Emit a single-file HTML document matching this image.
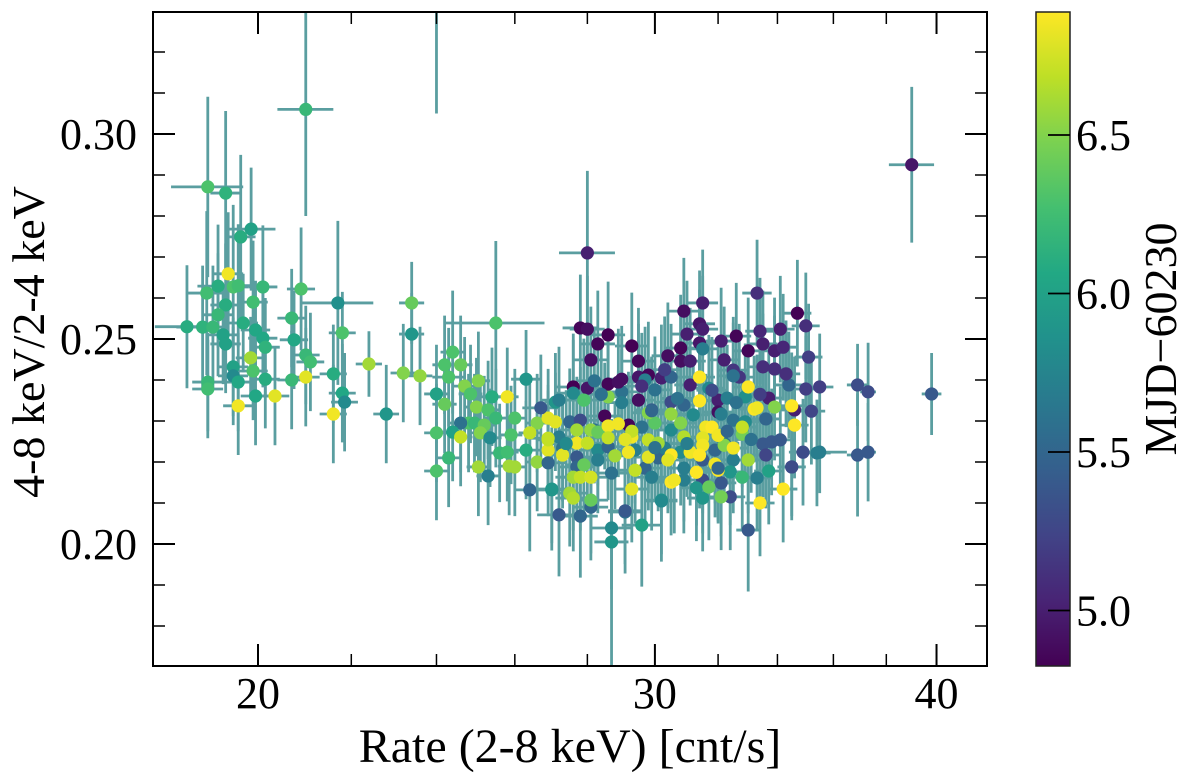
<!DOCTYPE html>
<html><head><meta charset="utf-8"><style>
html,body{margin:0;padding:0;background:#fff;}
svg{display:block;font-family:"Liberation Serif",serif;}
</style></head><body>
<svg id="chart" width="1200" height="780" viewBox="0 0 1200 780" xmlns="http://www.w3.org/2000/svg">
<defs>
<linearGradient id="viridis" x1="0" y1="1" x2="0" y2="0">
<stop offset="0" stop-color="#440154"/><stop offset="0.1" stop-color="#482475"/><stop offset="0.2" stop-color="#414487"/><stop offset="0.3" stop-color="#355f8d"/><stop offset="0.4" stop-color="#2a788e"/><stop offset="0.5" stop-color="#21918c"/><stop offset="0.6" stop-color="#22a884"/><stop offset="0.7" stop-color="#44bf70"/><stop offset="0.8" stop-color="#7ad151"/><stop offset="0.9" stop-color="#bddf26"/><stop offset="1" stop-color="#fde725"/>
</linearGradient>
<clipPath id="plotclip"><rect x="153" y="12" width="834" height="654"/></clipPath>
</defs>
<g id="errs" clip-path="url(#plotclip)"></g>
<g id="pts" clip-path="url(#plotclip)"></g>
<rect x="153" y="12" width="834" height="654" fill="none" stroke="#000" stroke-width="2"/>
<g id="axes"></g>
<text x="570" y="762" font-size="48" text-anchor="middle">Rate (2-8 keV) [cnt/s]</text>
<text transform="translate(44,342) rotate(-90)" font-size="46" text-anchor="middle">4-8 keV/2-4 keV</text>
<rect x="1036" y="12" width="34" height="654" fill="url(#viridis)" stroke="#222" stroke-width="1.5"/>
<g id="cbar"></g>
<text transform="translate(1176,339) rotate(-90)" font-size="46" text-anchor="middle">MJD−60230</text>
</svg>
<script>
const rate = [19.0,19.35,19.86,19.65,19.4,18.98,19.2,19.5,19.6,20.1,20.9,21.7,23.4,19.35,19.9,19.2,18.9,19.1,19.7,19.95,20.7,21.8,23.4,19.3,19.35,20.1,20.15,20.75,19.85,21.0,21.1,22.4,19.5,19.9,19.5,19.6,20.15,20.7,21.0,21.6,19.0,19.0,19.95,20.35,21.8,21.85,19.6,21.6,22.8,23.2,23.6,24.0,21.0,18.6,24.0,
25.5,28.0,24.4,26.3,24.2,24.6,24.3,25.05,24.7,25.8,25.4,24.85,24.0,27.9,28.6,27.1,24.2,25.0,25.3,25.5,26.0,26.6,26.9,27.1,24.8,24.95,25.2,24.6,24.4,24.6,25.1,25.35,25.9,26.4,24.3,24.0,25.05,25.3,25.85,26.0,26.6,26.9,26.9,26.4,27.0,25.6,25.8,26.3,27.2,27.8,28.7,28.7,29.6,30.2,29.1,33.0,
33.3,31.5,30.9,34.7,27.8,28.0,31.4,31.5,31.0,28.6,32.6,33.4,34.1,35.0,28.3,29.3,30.8,31.4,32.1,33.0,33.5,33.9,34.2,35.1,28.1,29.5,30.4,30.8,31.1,32.2,33.5,33.9,28.6,29.0,29.5,29.8,30.2,31.1,32.0,32.5,32.7,27.6,28.0,29.5,28.5,29.2,32.0,34.6,35.0,35.5,35.2,33.7,
27.2,27.6,28.2,29.0,29.7,30.0,30.5,31.5,31.7,32.3,32.5,32.9,34.4,26.7,27.5,27.8,28.2,29.6,30.5,29.9,30.5,30.9,32.1,32.5,32.9,27.2,27.3,27.7,28.3,28.6,29.4,30.1,30.3,30.8,30.9,31.5,31.9,32.2,32.5,33.5,33.8,34.1,34.5,34.9,35.4,33.6,26.9,27.7,28.7,29.7,29.9,30.9,31.5,32.1,32.4,33.3,33.7,27.0,28.1,29.1,30.2,31.3,31.5,32.4,
27.9,30.5,30.0,31.4,31.4,33.0,33.2,33.3,33.9,34.5,34.6,31.6,31.8,32.8,32.2,32.5,27.7,28.1,28.3,28.6,28.9,28.6,29.3,29.8,30.1,30.9,31.5,31.5,27.7,28.0,29.2,29.8,30.5,31.1,31.4,27.3,26.9,27.9,27.6,27.8,28.1,29.4,29.3,30.5,30.6,31.7,32.0,32.1,27.5,27.6,28.1,33.4,34.2,32.8,29.8,
36.9,37.3,39.8,39.0,36.9,37.3,35.5,34.5,
28.4,29.0,29.9,30.7,31.2,32.0,32.8,33.6,28.8,30.4,31.0,31.9,33.1,27.4,28.9,29.6,30.3,31.8,32.6,33.4,34.3,29.3,30.8,32.3,33.0,28.3,29.1,30.0,31.3,32.0];
const ratio = [.2871,.2856,.2768,.2749,.2659,.2612,.2629,.2627,.263,.2627,.2622,.2588,.2588,.2583,.259,.2559,.2529,.2529,.2539,.2522,.2551,.2515,.2512,.251,.2488,.2502,.248,.2498,.2454,.2461,.2444,.2439,.2432,.2422,.241,.2395,.2402,.24,.2407,.2415,.2395,.2378,.2361,.2361,.2368,.2346,.2337,.2317,.2317,.2417,.241,.2271,.306,.253,.34,
.2539,.271,.2468,.2402,.2437,.2437,.2407,.2398,.2385,.2359,.2359,.2366,.2366,.2351,.2359,.2346,.2341,.2334,.2327,.2307,.2307,.2295,.2307,.2298,.2295,.2295,.229,.2295,.2273,.2261,.2271,.2259,.2266,.2271,.221,.2178,.2188,.2166,.219,.2188,.22,.2229,.2254,.2132,.2134,.2222,.2224,.2229,.2071,.2068,.2039,.2005,.2046,.2107,.2078,.2034,
.2612,.2588,.2568,.2563,.2527,.2524,.2537,.2524,.2512,.251,.2507,.2519,.2524,.2532,.2488,.2483,.2478,.249,.2495,.2471,.2488,.2471,.248,.2456,.2449,.2446,.2459,.2446,.2446,.2449,.2432,.2427,.239,.2402,.2407,.2412,.2405,.2388,.2351,.2424,.2407,.2383,.238,.2351,.2312,.229,.2322,.2327,.2378,.2383,.2324,.2356,
.2351,.2368,.2398,.2371,.24,.2376,.2407,.2476,.238,.2356,.241,.2359,.2388,.2332,.2298,.2302,.2278,.2285,.2278,.2327,.2346,.2339,.2317,.2302,.2298,.2261,.2234,.2212,.2229,.2237,.2229,.221,.2234,.2224,.2185,.2205,.2229,.2246,.2205,.2244,.2249,.2254,.2188,.2224,.2222,.2217,.2198,.2188,.2173,.2185,.2163,.2156,.2156,.2149,.2176,.2161,.2178,.2132,.209,.2081,.2105,.2137,.2112,.2115,
.2351,.2317,.2295,.2407,.2349,.2383,.2329,.2332,.2334,.2337,.229,.2285,.2285,.2268,.2241,.2234,.2278,.2278,.2273,.2288,.2293,.2259,.2261,.2254,.2246,.2261,.2259,.2241,.2246,.2246,.2224,.2212,.2217,.2224,.2217,.2217,.2258,.2193,.2163,.2163,.2163,.218,.2134,.2151,.2156,.2139,.218,.2115,.2124,.2112,.2107,.21,.2134,.2163,.232,
.2388,.2371,.2366,.2925,.2217,.2224,.2224,.2188,
.2365,.2345,.2325,.2355,.2315,.2265,.2285,.2305,.2215,.2205,.2245,.2195,.2255,.2245,.2395,.2385,.2425,.2375,.2345,.2365,.2415,.2275,.2295,.2275,.2205,.2205,.2255,.2235,.2175,.2185];
const mjd = [6.3,6.15,6.0,6.1,6.85,6.25,6.1,6.3,6.25,6.2,6.3,5.85,6.4,6.1,6.25,6.2,6.15,6.2,6.1,6.05,6.2,6.3,5.9,6.0,6.0,6.05,6.15,6.05,6.6,6.2,6.25,6.6,6.0,6.3,5.8,6.05,6.1,6.2,6.8,6.1,6.2,6.25,6.05,6.8,6.05,5.8,6.85,6.85,5.9,6.5,6.55,6.3,6.2,6.1,6.0,
6.3,5.0,6.3,5.9,6.3,6.4,6.3,6.5,6.5,6.85,6.1,6.3,6.0,6.3,6.5,5.9,6.4,6.5,6.3,6.2,6.3,6.5,6.8,6.8,6.3,6.2,6.4,5.6,6.0,6.7,6.5,5.8,6.3,6.7,6.2,6.3,6.6,5.7,6.6,6.6,6.55,6.8,6.7,5.5,5.9,6.2,6.25,6.1,5.4,5.5,5.8,5.9,6.0,5.9,5.6,5.4,
5.1,5.0,4.9,4.8,4.85,4.9,4.95,5.0,5.0,4.8,4.85,5.05,5.0,5.1,4.85,4.8,4.85,4.95,5.0,4.85,5.0,5.0,5.05,5.2,4.9,4.85,4.9,4.9,5.0,5.0,5.1,5.1,4.85,4.9,4.95,4.85,5.0,5.0,5.0,5.15,5.15,4.8,4.95,4.9,4.85,4.85,4.9,5.0,5.2,5.2,5.25,5.0,
5.7,5.8,5.6,5.6,5.7,5.6,5.5,5.7,5.8,5.7,5.6,5.85,5.5,5.4,5.5,5.3,5.6,5.6,5.8,5.4,5.3,5.5,5.7,5.6,5.8,5.7,5.6,5.4,5.8,5.5,5.7,5.5,5.7,5.8,5.7,5.4,5.5,5.6,5.7,5.4,5.4,5.4,5.3,5.3,5.7,5.25,5.5,5.5,5.6,5.5,5.7,5.7,5.3,5.4,5.9,5.7,6.0,5.9,5.5,5.4,5.8,5.9,5.9,5.3,
6.3,6.55,6.35,6.9,6.9,6.9,6.9,6.85,6.5,6.9,6.9,6.85,6.9,6.45,6.5,6.85,6.6,6.55,6.4,6.85,6.85,6.7,6.85,6.7,6.6,6.65,6.8,6.85,6.85,6.7,6.85,6.8,6.9,6.85,6.9,6.8,6.7,6.4,6.6,6.7,6.75,6.7,6.8,6.9,6.85,6.4,6.9,6.45,6.6,6.65,6.4,6.9,6.9,6.2,6.5,
5.3,5.3,5.4,4.95,5.4,5.4,5.7,5.3,
5.6,5.7,5.5,5.6,5.8,6.85,6.7,5.5,6.6,6.8,5.7,6.85,5.6,5.8,4.9,5.1,5.2,5.3,5.6,5.2,5.1,6.7,6.5,5.5,6.6,5.7,6.8,5.6,6.9,5.5];
const rateErr = [.7,.3,.5,.3,.3,.4,.4,.3,.3,.3,.3,.8,.3,.3,.3,.3,.5,.3,.3,.3,.3,.3,.3,.3,.3,.3,.3,.3,.3,.3,.3,.3,.3,.3,.3,.3,.3,.3,.3,.3,.3,.3,.3,.3,.3,.3,.3,.3,.3,.3,.3,.3,.6,.6,.3,
1.3,.8,.3,.4,.3,.3,.4,.3,.3,.3,.3,.3,.3,.3,.3,.3,.3,.3,.3,.3,.3,.3,.3,.3,.3,.3,.3,.3,.3,.3,.3,.3,.3,.3,.3,.3,.3,.3,.3,.3,.3,.3,.3,.4,.4,.3,.3,.3,.6,.5,.6,.5,.6,.5,.5,.4,
.5,.5,.5,.5,.5,.5,.5,.5,.5,.5,.5,.5,.5,.5,.5,.5,.5,.5,.5,.5,.5,.5,.5,.5,.5,.5,.5,.5,.5,.5,.5,.5,.5,.5,.5,.5,.5,.5,.5,.5,.5,.5,.5,.5,.5,.5,.5,.5,.5,.5,.5,.5,
.5,.5,.5,.5,.5,.5,.5,.5,.5,.5,.5,.5,.5,.5,.5,.5,.5,.5,.5,.5,.5,.5,.5,.5,.5,.5,.5,.5,.5,.5,.5,.5,.5,.5,.5,.5,.5,.5,.5,.5,.5,.5,.5,.5,.5,.5,.5,.5,.5,.5,.5,.5,.5,.5,.5,.5,.5,.5,.5,.5,.5,.5,.5,.5,
.5,.5,.5,.5,.5,.5,.5,.5,.5,.5,.5,.5,.5,.5,.5,.5,.5,.5,.5,.5,.5,.5,.5,.5,.5,.5,.5,.5,.5,.5,.5,.5,.5,.5,.5,.5,.5,.5,.5,.5,.5,.5,.5,.5,.5,.5,.5,.5,.5,.5,.5,.5,.5,.5,.5,
.4,.3,.4,.9,.4,.3,1.0,.3,
.5,.5,.5,.5,.5,.5,.5,.5,.5,.5,.5,.5,.5,.5,.5,.5,.5,.5,.5,.5,.5,.5,.5,.5,.5,.5,.5,.5,.5,.5];
const ratioErr = [.022,.02,.015,.02,.015,.02,.015,.02,.015,.015,.015,.02,.01,.015,.015,.015,.015,.015,.012,.012,.012,.01,.01,.012,.012,.012,.012,.012,.01,.012,.012,.008,.012,.012,.012,.012,.012,.012,.012,.012,.012,.012,.012,.012,.012,.012,.012,.012,.012,.012,.012,.012,.026,.015,.035,
.02,.02,.015,.012,.012,.012,.012,.012,.012,.012,.012,.012,.012,.015,.015,.012,.012,.012,.012,.012,.012,.012,.012,.012,.012,.012,.012,.012,.012,.012,.012,.012,.012,.012,.012,.012,.012,.012,.012,.012,.012,.012,.012,.015,.015,.012,.012,.012,.015,.015,.015,.03,.015,.015,.015,.015,
.013,.013,.013,.013,.013,.013,.013,.013,.013,.013,.013,.013,.013,.013,.013,.013,.013,.013,.013,.013,.013,.013,.013,.013,.013,.013,.013,.013,.013,.013,.013,.013,.013,.013,.013,.013,.013,.013,.013,.013,.013,.013,.013,.013,.013,.013,.013,.013,.013,.013,.013,.013,
.013,.013,.013,.013,.013,.013,.013,.013,.013,.013,.013,.013,.013,.013,.013,.013,.013,.013,.013,.013,.013,.013,.013,.013,.013,.013,.013,.013,.013,.013,.013,.013,.013,.013,.013,.013,.013,.013,.013,.013,.013,.013,.013,.013,.013,.013,.013,.013,.013,.013,.013,.013,.013,.013,.013,.013,.013,.013,.013,.013,.013,.013,.013,.013,
.013,.013,.013,.013,.013,.013,.013,.013,.013,.013,.013,.013,.013,.013,.013,.013,.013,.013,.013,.013,.013,.013,.013,.013,.013,.013,.013,.013,.013,.013,.013,.013,.013,.013,.013,.013,.013,.013,.013,.013,.013,.013,.013,.013,.013,.013,.013,.013,.013,.013,.013,.013,.013,.013,.013,
.01,.012,.01,.019,.015,.012,.01,.012,
.013,.013,.013,.013,.013,.013,.013,.013,.013,.013,.013,.013,.013,.013,.013,.013,.013,.013,.013,.013,.013,.013,.013,.013,.013,.013,.013,.013,.013,.013];
const xMajor = [20,30,40];
const xMinor = [22,24,26,28,32,34,36,38];
const yMajor = [0.20,0.25,0.30];
const yMinor = [0.18,0.19,0.21,0.22,0.23,0.24,0.26,0.27,0.28,0.29,0.31,0.32];
const cMajor = [5.0,5.5,6.0,6.5];

const NS="http://www.w3.org/2000/svg";
const L=153,R=987,T=12,B=666;
function xs(v){return 258+(Math.log10(v)-Math.log10(20))*2254;}
function ys(v){return 339-(v-0.25)*4100;}
function cs(v){return 135+(6.5-v)*317;}
const stops=[[0,[68,1,84]],[.1,[72,36,117]],[.2,[65,68,135]],[.3,[53,95,141]],[.4,[42,120,142]],[.5,[33,145,140]],[.6,[34,168,132]],[.7,[68,191,112]],[.8,[122,209,81]],[.9,[189,223,38]],[1,[253,231,37]]];
function viridis(v){let t=(v-4.826)/(6.888-4.826);t=Math.max(0,Math.min(1,t));
 for(let i=1;i<stops.length;i++){if(t<=stops[i][0]){const a=stops[i-1],b=stops[i];const f=(t-a[0])/(b[0]-a[0]);
 const c=a[1].map((x,k)=>Math.round(x+(b[1][k]-x)*f));return `rgb(${c[0]},${c[1]},${c[2]})`;}}return "rgb(253,231,37)";}
function mk(tag,attrs,parent){const e=document.createElementNS(NS,tag);for(const k in attrs)e.setAttribute(k,attrs[k]);parent.appendChild(e);return e;}
const errs=document.getElementById('errs'),pts=document.getElementById('pts'),axes=document.getElementById('axes'),cbar=document.getElementById('cbar');
const ecol="#5a9ea0";
for(let i=0;i<rate.length;i++){
 const x=xs(rate[i]),y=ys(ratio[i]);
 const h=mk('line',{x1:xs(rate[i]-rateErr[i]),x2:xs(rate[i]+rateErr[i]),y1:y,y2:y,stroke:ecol,'stroke-width':2.8},errs);
 
 
 const v=mk('line',{x1:x,x2:x,y1:ys(ratio[i]-ratioErr[i]),y2:ys(ratio[i]+ratioErr[i]),stroke:ecol,'stroke-width':2.8},errs);
 
 
}
for(let i=0;i<rate.length;i++){
 const c=mk('circle',{cx:xs(rate[i]),cy:ys(ratio[i]),r:6.6,fill:viridis(mjd[i])},pts);
 
 
}
xMajor.forEach(v=>{const x=xs(v);
 const a=mk('line',{x1:x,x2:x,y1:B,y2:B-22,stroke:'#000','stroke-width':2},axes);
 
 
 const b=mk('line',{x1:x,x2:x,y1:T,y2:T+22,stroke:'#000','stroke-width':2},axes);
 
 
 const t=mk('text',{x:x,y:708,'font-size':44,'text-anchor':'middle'},axes);t.textContent=String(v);
 
 
});
xMinor.forEach(v=>{const x=xs(v);
 const a=mk('line',{x1:x,x2:x,y1:B,y2:B-12,stroke:'#000','stroke-width':1.5},axes);
 
 
 const b=mk('line',{x1:x,x2:x,y1:T,y2:T+12,stroke:'#000','stroke-width':1.5},axes);
 
 
});
yMajor.forEach(v=>{const y=ys(v);
 const a=mk('line',{x1:L,x2:L+22,y1:y,y2:y,stroke:'#000','stroke-width':2},axes);
 
 
 const b=mk('line',{x1:R,x2:R-22,y1:y,y2:y,stroke:'#000','stroke-width':2},axes);
 
 
 const t=mk('text',{x:137,y:y+15,'font-size':44,'text-anchor':'end'},axes);t.textContent=v.toFixed(2);
 
 
});
yMinor.forEach(v=>{const y=ys(v);
 const a=mk('line',{x1:L,x2:L+12,y1:y,y2:y,stroke:'#000','stroke-width':1.5},axes);
 
 
 const b=mk('line',{x1:R,x2:R-12,y1:y,y2:y,stroke:'#000','stroke-width':1.5},axes);
 
 
});
cMajor.forEach(v=>{const y=cs(v);
 const a=mk('line',{x1:1070,x2:1048,y1:y,y2:y,stroke:'#000','stroke-width':1.8},cbar);
 
 
 const t=mk('text',{x:1076,y:y+15,'font-size':44},cbar);t.textContent=v.toFixed(1);
 
 
});
</script>
</body></html>
